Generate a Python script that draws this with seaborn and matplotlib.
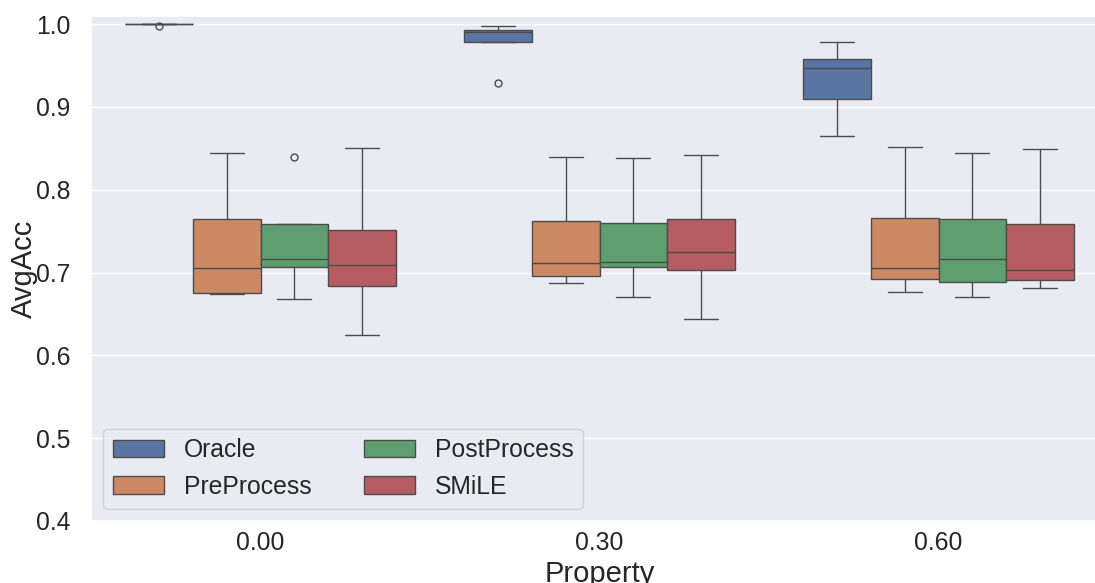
import numpy as np
import pandas as pd
import matplotlib
matplotlib.use("Agg")
import matplotlib.pyplot as plt
import seaborn as sns

properties = ["0.00", "0.30", "0.60"]
methods = ["Oracle", "PreProcess", "PostProcess", "SMiLE"]

oracle_000 = [0.998, 1.0, 1.0, 1.0, 1.0, 1.0, 1.0, 1.0, 1.0]
oracle_030 = [0.929, 0.978, 0.978, 0.985, 0.990, 0.991, 0.993, 0.996, 0.998]
oracle_060 = [0.865, 0.890, 0.909, 0.930, 0.947, 0.952, 0.958, 0.968, 0.978]

pre_000 = [0.674, 0.675, 0.675, 0.690, 0.706, 0.740, 0.765, 0.800, 0.844]
pre_030 = [0.687, 0.692, 0.696, 0.704, 0.712, 0.740, 0.762, 0.800, 0.840]
pre_060 = [0.677, 0.685, 0.692, 0.698, 0.705, 0.735, 0.766, 0.810, 0.851]

post_000 = [0.668, 0.690, 0.707, 0.711, 0.716, 0.740, 0.759, 0.759, 0.840]
post_030 = [0.671, 0.690, 0.707, 0.710, 0.713, 0.740, 0.760, 0.800, 0.838]
post_060 = [0.670, 0.680, 0.688, 0.700, 0.716, 0.740, 0.764, 0.800, 0.844]

smile_000 = [0.624, 0.660, 0.684, 0.696, 0.709, 0.730, 0.751, 0.800, 0.850]
smile_030 = [0.644, 0.680, 0.703, 0.714, 0.725, 0.745, 0.765, 0.800, 0.842]
smile_060 = [0.681, 0.686, 0.691, 0.697, 0.703, 0.730, 0.758, 0.800, 0.849]

groups = {
    ("Oracle", "0.00"): oracle_000, ("Oracle", "0.30"): oracle_030, ("Oracle", "0.60"): oracle_060,
    ("PreProcess", "0.00"): pre_000, ("PreProcess", "0.30"): pre_030, ("PreProcess", "0.60"): pre_060,
    ("PostProcess", "0.00"): post_000, ("PostProcess", "0.30"): post_030, ("PostProcess", "0.60"): post_060,
    ("SMiLE", "0.00"): smile_000, ("SMiLE", "0.30"): smile_030, ("SMiLE", "0.60"): smile_060,
}

rows = []
for (m, p), vals in groups.items():
    for v in vals:
        rows.append({"Method": m, "Property": p, "AvgAcc": v})
df = pd.DataFrame(rows)

# ---- style ----
sns.set_theme(style="darkgrid")
plt.rcParams["font.family"] = ["Liberation Sans", "DejaVu Sans"]

fig = plt.figure(figsize=(10.95, 5.83), dpi=100)
ax = fig.add_axes([91 / 1095, 1 - 521 / 583, (1108 - 91) / 1095, (521 - 16.3) / 583])

sns.boxplot(data=df, x="Property", y="AvgAcc", hue="Method",
            order=properties, hue_order=methods, palette="deep",
            width=0.8, gap=0, fliersize=5, ax=ax)

ax.set_ylim(0.4, 1.0093)
ax.set_xlim(-0.5, 2.5)
ax.set_yticks([0.4, 0.5, 0.6, 0.7, 0.8, 0.9, 1.0])
ax.tick_params(axis="y", labelsize=17.8, pad=8.6)
ax.tick_params(axis="x", labelsize=17.8, pad=1.5)
ax.set_xlabel("Property", fontsize=21)
ax.set_ylabel("AvgAcc", fontsize=21)
ax.xaxis.set_label_coords(0.5, -0.0765)
ax.yaxis.set_label_coords(-0.0522, 0.5)

sns.move_legend(ax, "lower left", ncol=2, title=None, fontsize=17.8,
                handlelength=2.07, handleheight=0.7, handletextpad=0.8,
                columnspacing=2.1, labelspacing=0.5, borderaxespad=0.5)

fig.savefig("out.png", dpi=100)
